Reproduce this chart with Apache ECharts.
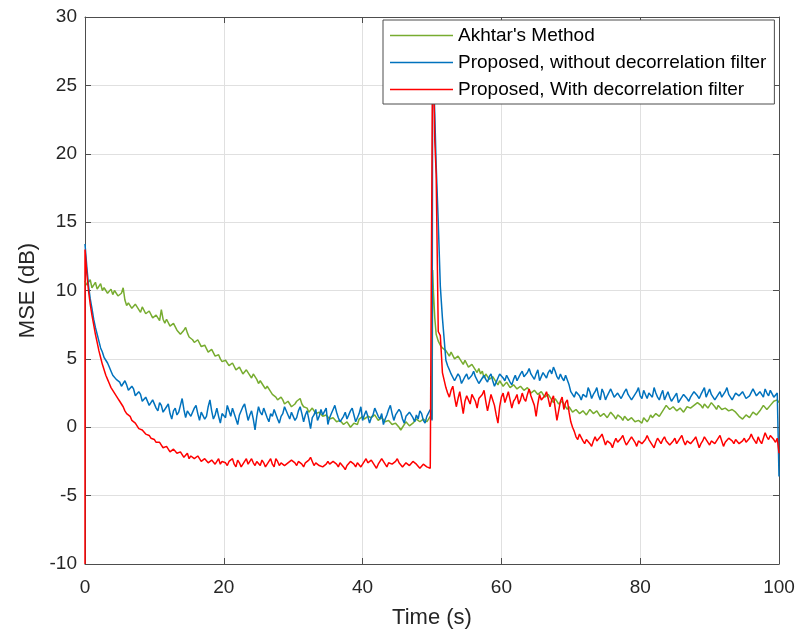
<!DOCTYPE html>
<html>
<head>
<meta charset="utf-8">
<script src="https://cdn.jsdelivr.net/npm/echarts@6/dist/echarts.min.js"></script>
<style>
html,body{margin:0;padding:0;background:#fff;}
#chart{width:800px;height:635px;}
</style>
</head>
<body>
<div id="chart"></div>
<script>
// ---- data ----
const seriesNames = ["Akhtar's Method", "Proposed, without decorrelation filter", "Proposed, With decorrelation filter"];
const xTicks = [0, 20, 40, 60, 80, 100];
const yTicks = [-10, -5, 0, 5, 10, 15, 20, 25, 30];

// sampling step (s) of the read-off samples
const dt = 0.25;

// segment A: t = 0 .. 50 s (one row = 5 s)
const segAStart = 0;
const akhtarA = [
  10.7,10.4,10.5,10.8,10.2,10.4,10.6,10.1,10.3,10.5,10.0,10.2,10.3,9.8,9.9,10.1,9.7,10.0,9.9,9.6,
  9.5,9.8,10.2,9.3,8.9,9.1,9.2,8.7,8.8,9.0,8.9,8.6,8.4,8.8,8.7,8.3,8.2,8.5,8.4,8.0,
  7.9,8.2,8.1,7.8,8.6,7.9,7.6,7.9,7.8,7.4,7.3,7.6,7.5,7.1,7.0,6.8,6.8,7.1,7.3,6.9,
  6.6,6.7,6.4,6.2,6.1,6.4,6.3,5.9,5.8,6.0,5.9,5.5,5.4,5.7,5.6,5.2,5.1,5.3,5.0,4.8,
  4.7,4.9,4.8,4.5,4.4,4.7,4.6,4.2,4.1,4.4,4.3,3.9,3.9,4.2,4.2,3.8,3.6,3.9,3.8,3.5,
  3.2,3.4,3.3,3.0,2.8,3.0,2.9,2.6,2.4,2.5,2.2,2.0,1.9,2.2,2.0,1.7,1.6,1.9,1.8,1.5,
  1.5,1.7,1.9,2.0,2.1,1.7,1.5,1.6,1.4,1.1,1.2,1.4,1.3,1.0,0.9,1.1,1.0,0.8,0.7,0.9,
  0.8,0.6,0.5,0.7,0.6,0.4,0.3,0.5,0.5,0.2,0.2,0.4,0.3,0.0,0.1,0.3,0.4,0.2,0.6,0.7,
  0.8,0.6,0.5,0.8,0.9,0.7,0.6,0.9,0.8,0.5,0.4,0.7,0.6,0.4,0.3,0.5,0.5,0.2,0.1,0.3,
  0.2,0.0,-0.2,0.0,0.1,0.4,0.3,0.1,0.0,0.3,0.4,0.6,0.6,0.4,0.3,0.6,0.7,0.4,0.5,0.8,
  0.6
];
const noFilterA = [
  13.4,11.8,10.4,9.4,8.7,7.9,7.3,6.8,6.3,5.8,5.5,5.1,4.9,4.7,4.4,4.1,3.8,3.9,3.5,3.6,
  3.3,3.0,2.9,3.4,3.1,2.7,2.6,3.0,2.8,2.3,2.2,2.6,2.4,1.9,1.8,2.2,2.1,1.6,1.5,2.0,
  1.9,1.4,1.2,1.8,1.6,1.1,1.0,1.5,1.7,1.0,0.6,1.2,1.4,0.9,1.1,1.6,2.1,1.3,0.7,1.2,
  1.3,0.8,0.9,1.4,1.6,1.0,0.5,1.1,1.2,0.6,0.8,1.5,2.0,1.2,0.6,0.9,1.4,0.8,0.3,1.0,
  1.1,0.7,1.6,1.2,0.8,1.4,1.3,0.6,0.2,0.9,1.0,1.5,1.7,1.1,0.5,0.9,1.2,0.6,-0.2,0.8,
  1.5,1.1,0.9,1.4,1.3,0.7,0.4,1.0,0.8,1.3,1.2,0.6,0.3,0.8,1.0,1.5,1.4,0.9,0.6,1.1,
  1.1,0.5,0.7,1.2,1.5,1.0,0.4,0.9,1.2,0.6,-0.1,0.7,0.9,1.3,0.5,0.8,1.3,0.9,0.8,1.4,
  0.2,0.7,1.0,1.3,1.6,1.1,0.7,0.4,0.3,0.8,1.1,0.6,0.6,1.2,1.4,0.9,0.4,0.7,1.0,1.5,
  0.5,0.9,1.2,0.8,0.3,0.7,0.9,1.4,1.3,0.8,0.6,1.0,0.2,0.6,0.9,1.3,1.6,1.0,0.5,0.9,
  0.8,1.3,1.1,0.6,0.3,0.8,0.7,1.1,1.2,0.7,0.4,0.9,0.6,1.2,1.0,0.5,0.3,0.8,0.9,1.3,
  0.5
];
const withFilterStart = -10;   // first sample of the red curve at t = 0
const withFilterA = [
  13.0,11.3,10.0,9.0,8.2,7.5,6.8,6.2,5.6,5.1,4.6,4.2,3.8,3.5,3.2,2.9,2.7,2.5,2.3,2.1,
  1.9,1.7,1.5,1.2,1.0,1.0,0.8,0.5,0.4,0.3,0.2,-0.1,-0.1,-0.2,-0.3,-0.5,-0.5,-0.6,-0.8,-0.8,
  -0.9,-1.1,-1.2,-1.1,-1.3,-1.5,-1.5,-1.4,-1.6,-1.8,-1.8,-1.6,-1.7,-1.9,-2.0,-1.8,-1.9,-2.2,-2.1,-1.9,
  -2.3,-2.1,-2.0,-2.3,-2.4,-2.1,-2.2,-2.5,-2.5,-2.3,-2.2,-2.6,-2.6,-2.4,-2.3,-2.7,-2.5,-2.3,-2.7,-2.5,
  -2.4,-2.6,-2.8,-2.5,-2.5,-2.3,-2.7,-2.9,-2.4,-2.6,-2.9,-2.7,-2.5,-2.3,-2.7,-2.5,-2.3,-2.6,-2.8,-2.5,
  -2.6,-2.8,-2.4,-2.6,-2.9,-2.7,-2.5,-2.3,-2.7,-2.9,-2.3,-2.5,-2.8,-2.6,-2.5,-2.8,-2.9,-2.6,-2.6,-2.4,
  -2.4,-2.6,-2.8,-2.5,-2.5,-2.7,-2.9,-2.6,-2.6,-2.4,-2.2,-2.5,-2.8,-2.6,-2.5,-2.8,-2.7,-2.9,-3.0,-2.7,
  -2.5,-2.7,-2.8,-2.5,-2.4,-2.7,-2.9,-2.6,-2.6,-2.9,-3.1,-2.8,-2.7,-2.5,-2.4,-2.7,-2.9,-2.6,-2.6,-2.9,
  -2.8,-2.5,-2.3,-2.6,-2.7,-2.4,-2.5,-2.8,-3.0,-2.7,-2.6,-2.3,-2.4,-2.7,-2.9,-2.6,-2.5,-2.7,-2.8,-2.5,
  -2.3,-2.6,-2.7,-2.9,-2.9,-2.6,-2.5,-2.8,-2.8,-2.5,-2.4,-2.7,-2.7,-3.0,-3.0,-2.7,-2.6,-2.9,-2.8,-3.0,
  -3.1
];

// spike after the change at t = 50 s
const spikeTime       = [50.1, 50.2, 50.4, 50.6, 50.9, 51.2, 51.5];
const spikeAkhtar     = [11.5, 10.0, 8.0, 6.8, 6.3, 6.0, 5.8];
const spikeNoFilter   = [27.5, 26.0, 22.9, 19.2, 15.0, 10.3, 8.0];
const spikeWithFilter = [28.5, 27.0, 21.0, 18.5, 7.0, 6.7, 4.0];

// segment B: t = 52 .. 100 s (one row = 5 s)
const segBStart = 52;
const akhtarB = [
  5.6,5.4,5.2,5.5,5.4,5.0,4.9,5.2,5.1,4.8,4.6,4.9,4.8,4.4,4.3,4.6,4.5,4.2,4.0,4.3,
  3.9,4.1,3.6,3.9,3.8,3.5,3.4,3.7,3.6,3.3,3.1,3.4,3.3,3.0,3.0,3.3,3.2,2.9,2.8,3.1,
  3.1,2.8,2.7,3.0,3.0,2.7,2.6,2.9,2.8,2.5,2.4,2.7,2.7,2.4,2.3,2.6,2.5,2.2,2.1,2.4,
  2.3,2.0,1.8,2.1,2.0,1.7,1.6,1.9,1.8,1.5,1.3,1.5,1.4,1.1,1.0,1.3,1.3,1.0,0.9,1.2,
  1.2,0.9,1.0,1.3,1.3,1.0,0.9,1.2,1.1,0.8,0.7,1.0,1.0,0.7,0.8,1.1,1.1,0.8,0.6,0.9,
  0.9,0.7,0.5,0.8,0.8,0.5,0.4,0.7,0.6,0.4,0.3,0.5,0.5,0.3,0.7,0.8,0.4,0.6,0.9,0.7,
  0.7,1.0,1.1,0.8,0.9,1.2,1.4,1.6,1.6,1.3,1.2,1.5,1.5,1.2,1.1,1.4,1.4,1.1,1.2,1.5,
  1.6,1.4,1.3,1.6,1.5,1.8,1.9,1.6,1.4,1.7,1.7,1.4,1.5,1.8,1.8,1.5,1.3,1.6,1.6,1.3,
  1.2,1.4,1.5,1.2,1.1,1.3,1.4,1.1,1.0,0.8,0.8,0.6,0.6,0.9,1.0,0.7,0.8,1.1,1.2,0.9,
  1.0,1.2,1.4,1.6,1.5,1.3,1.3,1.6,1.7,1.9,1.9,2.0,1.8
];
const noFilterB = [
  4.9,4.5,4.2,3.9,3.8,3.4,3.5,3.9,3.7,3.2,3.3,3.7,3.9,3.5,3.4,3.8,4.1,3.7,3.6,3.2,
  3.2,3.6,3.8,3.5,3.3,3.7,3.9,3.4,3.0,3.3,3.6,3.9,4.0,3.6,3.4,3.8,3.7,3.3,3.1,3.5,
  3.8,3.4,3.5,3.9,4.1,3.7,3.6,4.0,4.3,3.9,3.7,3.5,3.9,4.2,3.4,3.7,4.0,3.8,3.6,4.0,
  4.2,3.9,4.4,4.1,3.7,3.5,3.9,3.6,3.4,3.8,3.7,3.1,2.6,2.4,2.2,2.6,2.7,2.3,2.0,2.4,
  2.5,2.2,2.9,2.6,2.1,2.4,2.6,2.9,2.3,2.0,2.8,2.5,2.0,2.3,2.4,2.8,2.7,2.2,2.1,2.5,
  2.5,2.1,2.2,2.6,2.8,2.4,2.3,2.0,2.0,2.4,2.6,2.9,2.3,2.1,2.7,2.4,2.1,2.5,2.5,2.2,
  2.9,2.5,2.2,2.0,2.4,2.7,2.0,2.3,2.6,2.2,1.9,2.1,2.2,2.5,1.8,2.0,2.1,2.4,2.5,2.1,
  1.9,2.2,2.3,2.6,2.7,2.3,2.1,2.4,2.5,2.9,2.2,2.5,2.8,2.4,2.3,2.0,2.0,2.4,2.6,2.2,
  2.2,2.6,2.9,2.4,2.3,2.0,2.1,2.5,2.6,2.3,2.2,2.6,2.5,2.1,2.0,2.3,2.4,2.8,2.7,2.3,
  2.2,2.6,2.5,2.2,2.8,2.5,2.3,2.7,2.6,2.2,2.3,2.5,-3.6
];
const withFilterB = [
  2.9,2.5,2.2,2.7,3.0,2.2,1.5,2.1,2.6,1.8,1.0,1.9,2.3,2.0,1.7,2.4,2.5,1.9,1.4,2.1,
  2.0,2.4,2.7,1.9,1.2,1.8,2.4,2.0,1.6,0.9,0.3,1.5,2.2,2.5,1.8,2.2,2.6,2.0,1.4,1.9,
  2.1,2.4,1.7,2.0,2.5,2.1,1.9,2.4,2.8,2.3,2.2,1.6,0.8,1.7,2.4,2.0,1.9,2.3,2.6,2.1,
  1.5,2.0,2.3,1.4,0.5,1.2,1.9,2.2,1.3,1.8,2.0,1.1,0.4,0.0,-0.3,-0.7,-0.9,-0.5,-0.6,-1.0,
  -1.2,-0.9,-0.8,-1.2,-1.4,-1.0,-0.7,-1.0,-1.1,-0.7,-0.5,-0.9,-1.3,-1.0,-0.9,-1.2,-1.5,-1.1,-0.8,-1.1,
  -1.1,-0.8,-0.6,-1.0,-1.3,-1.1,-1.0,-0.7,-0.7,-1.1,-1.4,-1.0,-0.9,-1.2,-1.2,-0.9,-0.6,-0.9,-1.1,-1.3,
  -1.5,-1.1,-0.8,-1.0,-1.2,-0.9,-0.7,-1.0,-1.0,-1.3,-1.4,-1.0,-0.8,-1.2,-1.1,-0.8,-0.6,-1.0,-1.3,-1.0,
  -0.9,-1.2,-1.2,-0.9,-0.7,-1.1,-1.5,-1.2,-1.0,-0.7,-0.8,-1.1,-1.3,-1.0,-0.9,-1.2,-1.1,-0.8,-0.6,-1.0,
  -1.4,-1.1,-1.0,-0.8,-0.7,-1.0,-1.2,-0.9,-0.9,-1.2,-1.3,-1.0,-0.8,-1.1,-1.1,-0.8,-0.5,-0.8,-1.0,-1.2,
  -0.7,-1.0,-1.2,-0.8,-0.4,-0.7,-0.9,-0.6,-0.6,-0.9,-1.1,-0.8,-1.9
];

// ---- build [t, value] pairs ----
function seg(start, vals) { return vals.map((v, i) => [start + i * dt, v]); }
function spike(vals) { return vals.map((v, i) => [spikeTime[i], v]); }

const akhtarData = seg(segAStart, akhtarA).concat(spike(spikeAkhtar), seg(segBStart, akhtarB));
const noFilterData = seg(segAStart, noFilterA).concat(spike(spikeNoFilter), seg(segBStart, noFilterB));
const withFilterData = [[segAStart, withFilterStart]].concat(seg(segAStart, withFilterA), spike(spikeWithFilter), seg(segBStart, withFilterB));

const FONT = "'Liberation Sans', Arial, sans-serif";
const AX = '#4d4d4d';
const TXT = '#262626';
const GRIDC = '#e0e0e0';

const chart = echarts.init(document.getElementById('chart'), null, {renderer: 'canvas'});
const baseX = {
  type: 'value', min: xTicks[0], max: xTicks[xTicks.length - 1], interval: xTicks[1] - xTicks[0]
};
const baseY = {
  type: 'value', min: yTicks[0], max: yTicks[yTicks.length - 1], interval: yTicks[1] - yTicks[0]
};
const tick = {show: true, inside: true, length: 6, lineStyle: {color: AX}};
chart.setOption({
  animation: false,
  backgroundColor: '#fff',
  grid: {left: 85, right: 21, top: 17, bottom: 71, containLabel: false},
  legend: {
    orient: 'vertical', left: 383, top: 20,
    icon: 'rect',
    itemWidth: 63, itemHeight: 1.5, itemGap: 6,
    padding: [5, 8, 4, 7],
    backgroundColor: '#fff', borderColor: AX, borderWidth: 1,
    textStyle: {fontSize: 19, lineHeight: 21, color: '#000', fontFamily: FONT},
    data: seriesNames
  },
  xAxis: [
    Object.assign({}, baseX, {
      position: 'bottom',
      name: 'Time (s)', nameLocation: 'middle', nameGap: 43,
      nameTextStyle: {fontSize: 22, color: TXT, fontFamily: FONT},
      axisLine: {show: true, onZero: false, lineStyle: {color: AX, width: 1}},
      axisTick: tick,
      axisLabel: {fontSize: 19, color: TXT, margin: 14, fontFamily: FONT},
      splitLine: {show: true, lineStyle: {color: GRIDC, width: 1}}
    }),
    Object.assign({}, baseX, {
      position: 'top',
      axisLine: {show: true, onZero: false, lineStyle: {color: AX, width: 1}},
      axisTick: tick,
      axisLabel: {show: false},
      splitLine: {show: false}
    })
  ],
  yAxis: [
    Object.assign({}, baseY, {
      position: 'left',
      name: 'MSE (dB)', nameLocation: 'middle', nameGap: 44, nameRotate: 90,
      nameTextStyle: {fontSize: 22, color: TXT, fontFamily: FONT},
      axisLine: {show: true, onZero: false, lineStyle: {color: AX, width: 1}},
      axisTick: tick,
      axisLabel: {fontSize: 19, color: TXT, margin: 8, fontFamily: FONT},
      splitLine: {show: true, lineStyle: {color: GRIDC, width: 1}}
    }),
    Object.assign({}, baseY, {
      position: 'right',
      axisLine: {show: true, onZero: false, lineStyle: {color: AX, width: 1}},
      axisTick: tick,
      axisLabel: {show: false},
      splitLine: {show: false}
    })
  ],
  series: [
    {name: seriesNames[0], type: 'line', data: akhtarData, symbol: 'none', xAxisIndex: 0, yAxisIndex: 0,
     lineStyle: {color: '#77AC30', width: 1.5}, itemStyle: {color: '#77AC30'}, clip: true},
    {name: seriesNames[1], type: 'line', data: noFilterData, symbol: 'none', xAxisIndex: 0, yAxisIndex: 0,
     lineStyle: {color: '#0072BD', width: 1.5}, itemStyle: {color: '#0072BD'}, clip: true},
    {name: seriesNames[2], type: 'line', data: withFilterData, symbol: 'none', xAxisIndex: 0, yAxisIndex: 0,
     lineStyle: {color: '#FF0000', width: 1.5}, itemStyle: {color: '#FF0000'}, clip: true}
  ]
});
</script>
</body>
</html>
